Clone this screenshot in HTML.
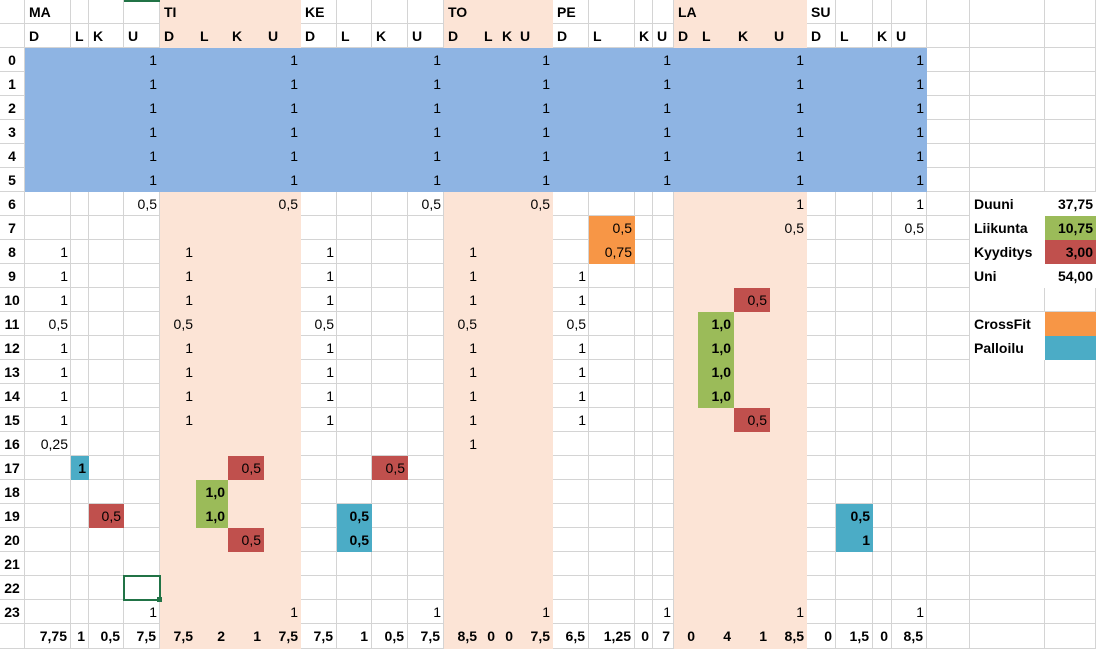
<!DOCTYPE html>
<html><head><meta charset="utf-8">
<style>
body{margin:0;background:#fff;width:1096px;height:649px;overflow:hidden;font-family:"Liberation Sans",sans-serif;}
#sheet{position:relative;width:1096px;height:649px;}
.c{position:absolute;box-sizing:border-box;font-size:14px;line-height:24px;white-space:nowrap;overflow:visible;}
.g{border-right:1px solid #d4d4d4;border-bottom:1px solid #d4d4d4;}
.b{font-weight:bold;}
.r{text-align:right;padding-right:3px;}
.l{text-align:left;padding-left:4px;}
.m{text-align:center;}
</style></head>
<body>
<div id="sheet"></div>
<script>
const colX=[25,71,89,124,160,196,228,264,301,337,372,408,444,480,498,516,553,589,635,653,674,698,734,770,807,836,873,892,927,970,1045,1096];
const days=["MA","TI","KE","TO","PE","LA","SU"];
const sub=["D","L","K","U"];
const peachCols=[4,5,6,7,12,13,14,15,20,21,22,23];
const totals=["7,75","1","0,5","7,5","7,5","2","1","7,5","7,5","1","0,5","7,5","8,5","0","0","7,5","6,5","1,25","0","7","0","4","1","8,5","0","1,5","0","8,5"];
// [row, col, text, fill, bold]
const cells=[
[6,3,"0,5"],[6,7,"0,5"],[6,11,"0,5"],[6,15,"0,5"],[6,23,"1"],[6,27,"1"],
[7,17,"0,5","#f79646"],[7,23,"0,5"],[7,27,"0,5"],
[8,0,"1"],[8,4,"1"],[8,8,"1"],[8,12,"1"],[8,17,"0,75","#f79646"],
[9,0,"1"],[9,4,"1"],[9,8,"1"],[9,12,"1"],[9,16,"1"],
[10,0,"1"],[10,4,"1"],[10,8,"1"],[10,12,"1"],[10,16,"1"],[10,22,"0,5","#c0504d"],
[11,0,"0,5"],[11,4,"0,5"],[11,8,"0,5"],[11,12,"0,5"],[11,16,"0,5"],[11,21,"1,0","#9bbb59",1],
[12,0,"1"],[12,4,"1"],[12,8,"1"],[12,12,"1"],[12,16,"1"],[12,21,"1,0","#9bbb59",1],
[13,0,"1"],[13,4,"1"],[13,8,"1"],[13,12,"1"],[13,16,"1"],[13,21,"1,0","#9bbb59",1],
[14,0,"1"],[14,4,"1"],[14,8,"1"],[14,12,"1"],[14,16,"1"],[14,21,"1,0","#9bbb59",1],
[15,0,"1"],[15,4,"1"],[15,8,"1"],[15,12,"1"],[15,16,"1"],[15,22,"0,5","#c0504d"],
[16,0,"0,25"],[16,12,"1"],
[17,1,"1","#4bacc6",1],[17,6,"0,5","#c0504d"],[17,10,"0,5","#c0504d"],
[18,5,"1,0","#9bbb59",1],
[19,2,"0,5","#c0504d"],[19,5,"1,0","#9bbb59",1],[19,9,"0,5","#4bacc6",1],[19,25,"0,5","#4bacc6",1],
[20,6,"0,5","#c0504d"],[20,9,"0,5","#4bacc6",1],[20,25,"1","#4bacc6",1],
[23,3,"1"],[23,7,"1"],[23,11,"1"],[23,15,"1"],[23,19,"1"],[23,23,"1"],[23,27,"1"]
];
const summary=[[6,"Duuni","37,75",""],[7,"Liikunta","10,75","#9bbb59"],[8,"Kyyditys","3,00","#c0504d"],[9,"Uni","54,00",""],[11,"CrossFit","","#f79646"],[12,"Palloilu","","#4bacc6"]];
const S=document.getElementById('sheet');
function rowTop(r){return r<0?(r===-2?0:24):48+24*r;}
function rowH(r){return r===24?25:24;}
function mk(x,y,w,h,cls,txt,name,bg){const d=document.createElement('div');d.className='c '+cls;d.style.left=x+'px';d.style.top=y+'px';d.style.width=w+'px';d.style.height=h+'px';if(bg)d.style.background=bg;if(txt!==undefined)d.textContent=txt;


S.appendChild(d);return d;}
// grid rows -2,-1 header, 0..23 data, 24 totals
for(let r=-2;r<=24;r++){
  const y=rowTop(r),h=rowH(r);
  mk(0,y,25,h,'g b m',r>=0&&r<24?String(r):'', 'row-header');
  for(let c=0;c<colX.length-1;c++){
    let bg='';
    if(c<28&&peachCols.includes(c)&&(r<0||r>=6))bg='#fce4d6';
    if(c<28&&r>=0&&r<=5)bg='#8eb4e3';
    const cls=bg?'':'g';
    let txt='',tc='';
    if(r===-2&&c<28&&c%4===0){txt=days[c/4];tc=' b l';}
    if(r===-1&&c<28){txt=sub[c%4];tc=' b l';}
    if(r>=0&&r<=5&&c<28&&c%4===3){txt='1';tc=' r';}
    if(r===24&&c<28){txt=totals[c];tc=' b r';}
    mk(colX[c],y,colX[c+1]-colX[c],h,cls+tc,txt,'cell',bg);
  }
}
cells.forEach(([r,c,t,bg,b])=>{
  const d=mk(colX[c],rowTop(r),colX[c+1]-colX[c],24,(b?'b ':'')+'r',t,'value-cell',bg||'');
  if(bg)d.style.zIndex=2;
});
summary.forEach(([r,lab,val,bg])=>{
  mk(970,rowTop(r),75,24,'b l',lab,'summary-label','#fff');
  mk(1045,rowTop(r),51,24,'b r',val,'summary-value',bg||'#fff');
});
const sel=document.createElement('div');


sel.style.cssText='position:absolute;left:123px;top:575px;width:38px;height:26px;box-sizing:border-box;border:2px solid #217346;z-index:5;';
S.appendChild(sel);
const h=document.createElement('div');


h.style.cssText='position:absolute;left:157px;top:597px;width:5px;height:5px;background:#217346;z-index:6;';
S.appendChild(h);
const tl=document.createElement('div');


tl.style.cssText='position:absolute;left:124px;top:0;width:36px;height:2px;background:#217346;z-index:6;';
S.appendChild(tl);
</script>
</body></html>
